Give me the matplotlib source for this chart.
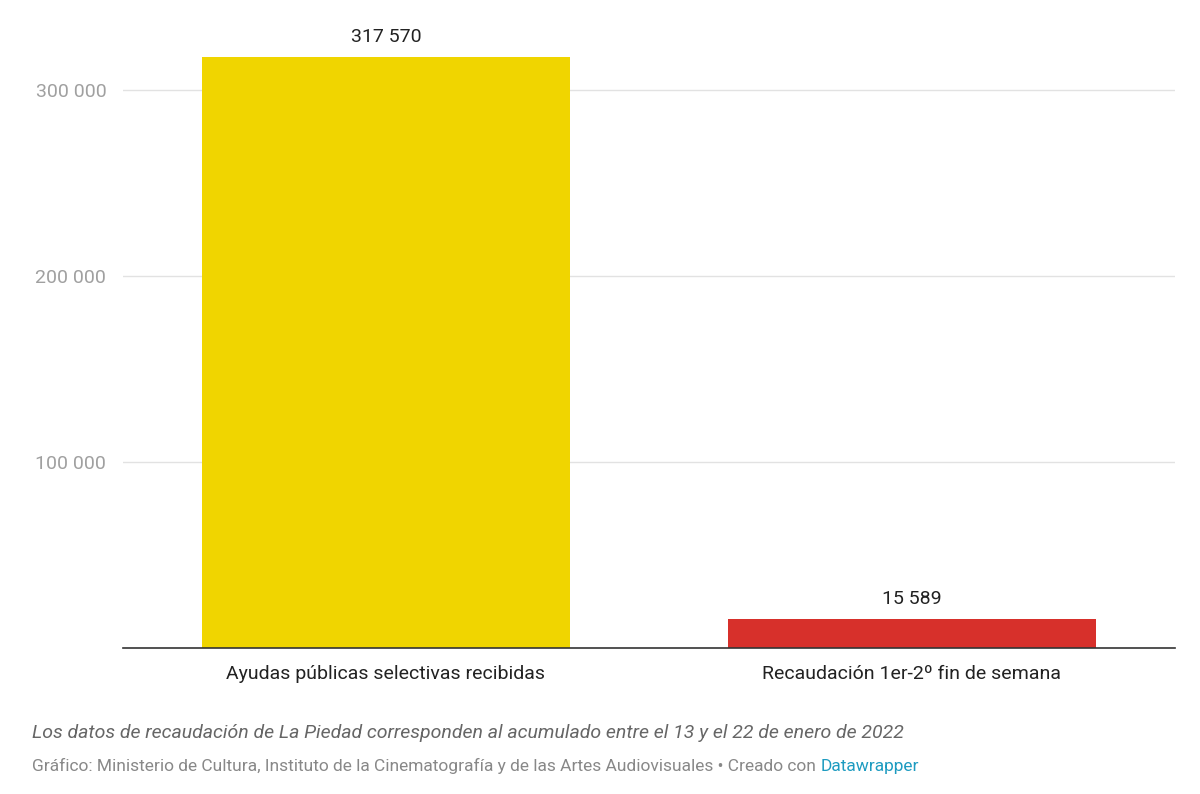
import matplotlib.pyplot as plt

plt.rcParams['font.family'] = ['Roboto', 'DejaVu Sans']

categories = ["Ayudas públicas selectivas recibidas", "Recaudación 1er-2º fin de semana"]
values = [317570, 15589]
colors = ["#f0d500", "#d7302b"]
yticks = [100000, 200000, 300000]

def fmt(v):
    return f"{v:,}".replace(",", " ")

fig = plt.figure(figsize=(12, 7.94), dpi=100)
ax = fig.add_axes([123 / 1200, 1 - 648 / 794, 1052 / 1200, 648 / 794])
ax.set_xlim(-0.5, 1.5)
ax.set_ylim(0, 648 / 186 * 100000)

x = range(len(categories))
ax.bar(x, values, width=0.7, color=colors, zorder=2)
for i, v in zip(x, values):
    ax.text(i, v + 6000, fmt(v), ha="center", va="bottom", fontsize=14, color="#222222")

ax.set_yticks(yticks)
ax.set_yticklabels([fmt(t) for t in yticks], fontsize=14, color="#a0a0a0")
ax.tick_params(axis="y", length=0, pad=12)
ax.grid(axis="y", color="#e2e2e2", lw=1, zorder=0)
ax.set_xticks(list(x))
ax.set_xticklabels(categories, fontsize=14, color="#222222")
ax.tick_params(axis="x", length=0, pad=12)
for s in ["top", "right", "left"]:
    ax.spines[s].set_visible(False)
ax.spines["bottom"].set_color("#333333")
ax.spines["bottom"].set_linewidth(1.2)

fig.text(32 / 1200, 1 - 733 / 794, "Los datos de recaudación de La Piedad corresponden al acumulado entre el 13 y el 22 de enero de 2022",
         fontsize=14, style="italic", color="#666666", va="center")
fig.text(32 / 1200, 1 - 766 / 794,
         "Gráfico: Ministerio de Cultura, Instituto de la Cinematografía y de las Artes Audiovisuales • Creado con ",
         fontsize=12.5, color="#888888", va="center")
t = fig.texts[-1]
fig.canvas.draw()
bb = t.get_window_extent()
fig.text(bb.x1 / 1200, 1 - 766 / 794, "Datawrapper", fontsize=12.5, color="#1d9bc0", va="center")

fig.savefig("out.png", dpi=100)
